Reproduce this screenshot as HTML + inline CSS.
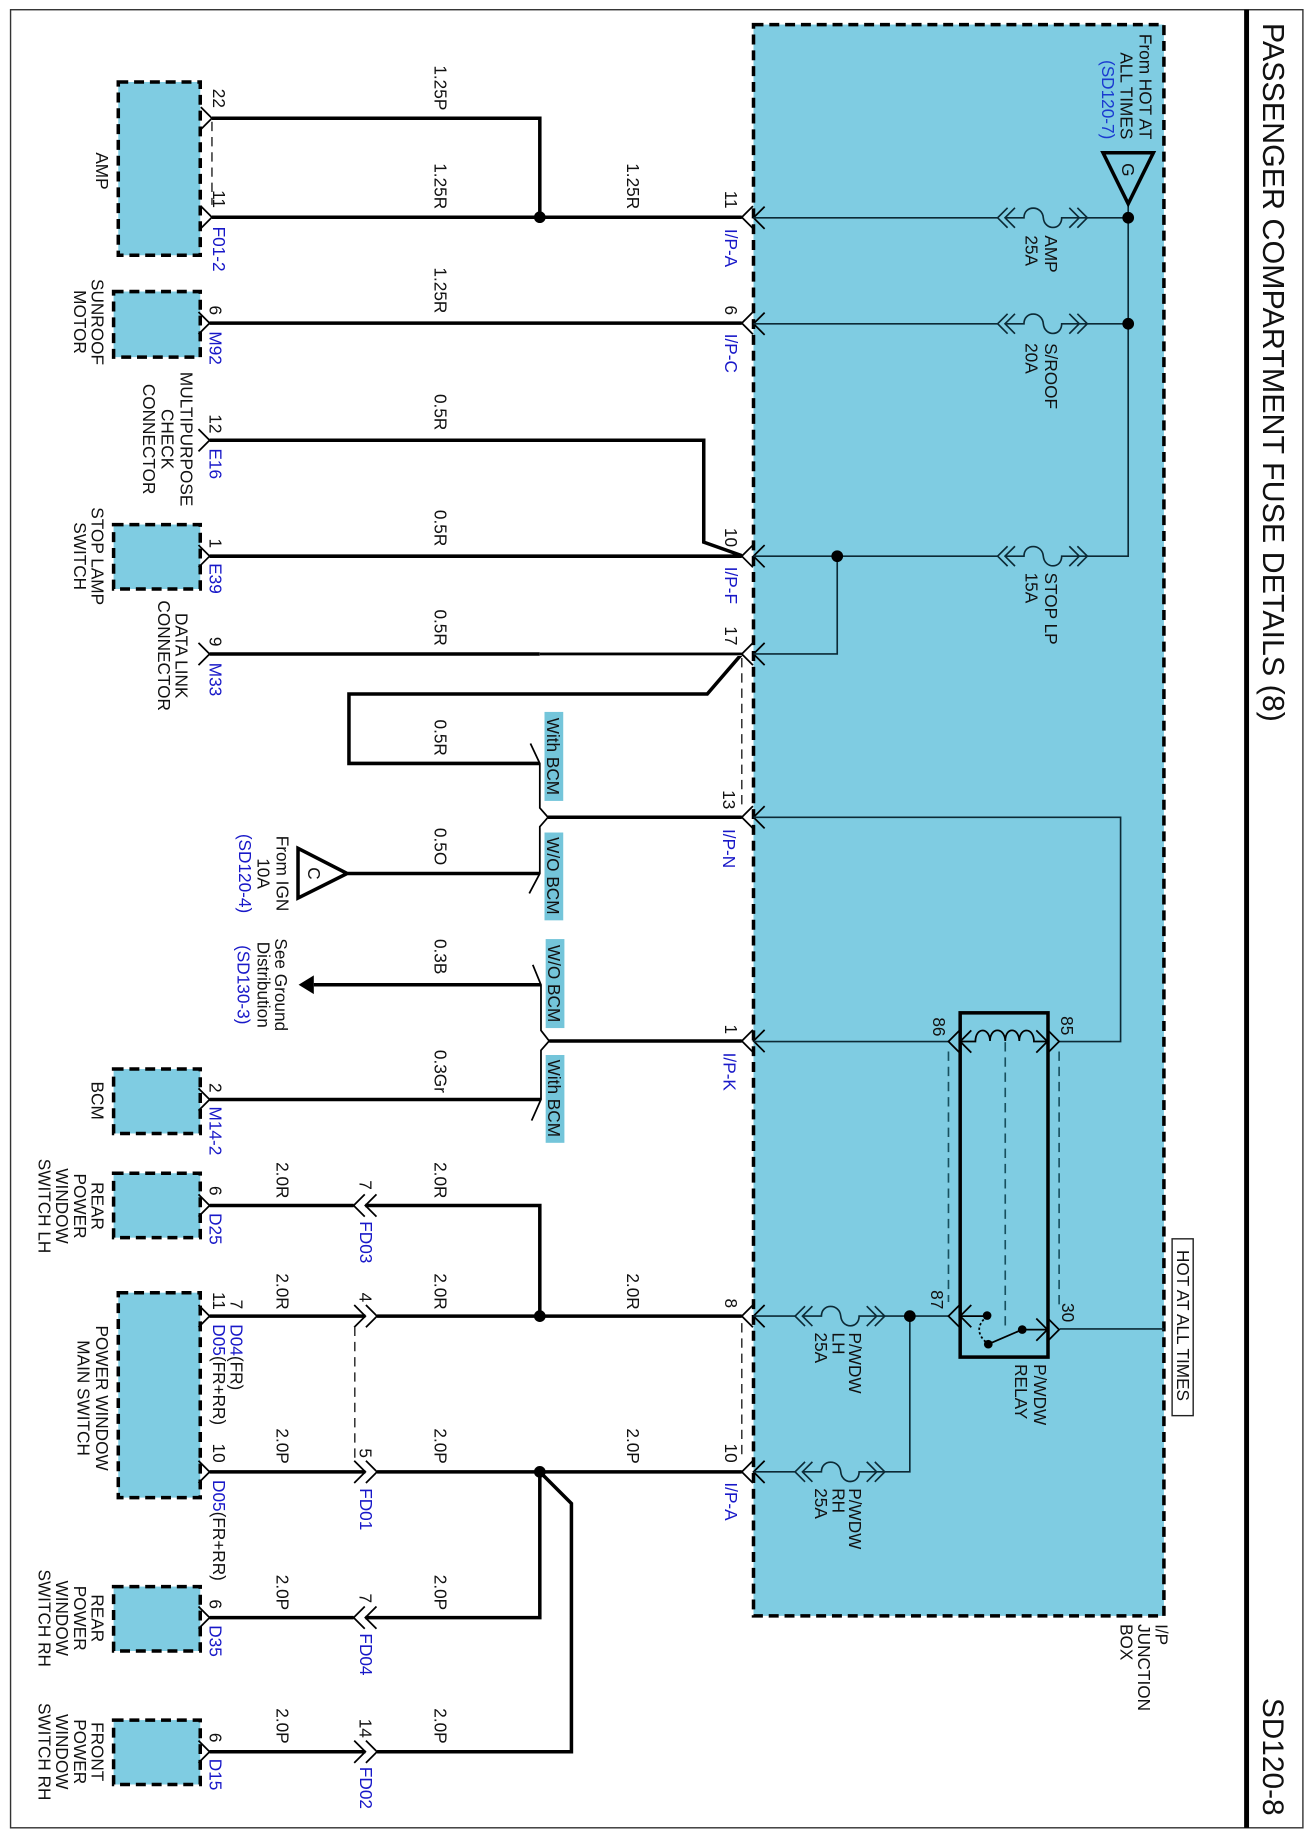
<!DOCTYPE html>
<html><head><meta charset="utf-8"><title>Passenger Compartment Fuse Details</title>
<style>
html,body{margin:0;padding:0;background:#fff}
svg{display:block}
text{font-family:"Liberation Sans",sans-serif;font-size:14.7px;fill:#111}
.b{fill:#1818c8}
.m{text-anchor:middle}
.e{text-anchor:end}
.w{fill:none;stroke:#000;stroke-width:3}
.t{fill:none;stroke:#0c2a36;stroke-width:1.4}
.d{fill:none;stroke:#222;stroke-width:1.2;stroke-dasharray:8 5}
.dt{fill:none;stroke:#17505f;stroke-width:1.4;stroke-dasharray:8 5}
.box{fill:#7fcce2;stroke:#000;stroke-width:3;stroke-dasharray:8.5 5}
.tag{fill:#74c5da}
</style></head><body>
<svg xmlns="http://www.w3.org/2000/svg" width="1311" height="1836" viewBox="0 0 1119.6 1568">
<defs>
<path id="gt" d="M-9.5,-9.5 L0,0 L-9.5,9.5"/>
<path id="lt" d="M9.5,-9.5 L0,0 L9.5,9.5"/>
<g id="fuse" fill="none" stroke="#0c2a36" stroke-width="1.4">
<path d="M8.5,-8.5 L0,0 L8.5,8.5 M14.8,-8.5 L6.3,0 L14.8,8.5 M6.3,0 H22.5 C22.5,-11 38,-11 39,0 C40,11 54.7,11 54.7,0 H76.6 M61.2,-8.5 L69.7,0 L61.2,8.5 M68.1,-8.5 L76.6,0 L68.1,8.5"/>
</g>
</defs>
<rect width="1119.6" height="1568" fill="#fff"/>
<rect x="9" y="8.3" width="1103.7" height="1552.7" fill="none" stroke="#333" stroke-width="1.2"/>
<rect x="1062.5" y="8.3" width="4.2" height="1552.7" fill="#000"/>
<text transform="translate(1078.6,19.5) rotate(90)" style="font-size:26px">PASSENGER COMPARTMENT FUSE DETAILS (8)</text>
<text transform="translate(1078.6,1450) rotate(90)" style="font-size:25.5px">SD120-8</text>

<!-- boxes -->
<rect class="box" x="643.5" y="21" width="350.5" height="1359"/>
<rect class="box" x="101" y="70" width="70" height="148"/>
<rect class="box" x="97" y="249" width="74" height="56"/>
<rect class="box" x="97" y="448" width="74" height="55"/>
<rect class="box" x="97" y="913" width="74" height="55"/>
<rect class="box" x="97" y="1002" width="74" height="55"/>
<rect class="box" x="101" y="1104" width="70" height="175"/>
<rect class="box" x="97" y="1355" width="74" height="55"/>
<rect class="box" x="97" y="1469" width="74" height="55"/>

<!-- tags -->
<rect class="tag" x="465" y="608" width="16" height="76"/>
<rect class="tag" x="465" y="711" width="16" height="75"/>
<rect class="tag" x="466" y="802" width="16" height="76"/>
<rect class="tag" x="466" y="901" width="16" height="75"/>

<!-- thick wires -->
<path class="w" d="M181,101 H461 V185.5 M181,185.5 H633.5 M179,276 H633.5 M179,376 H601 V463 L633.5,474.5 M179,475 H633.5 M179,558.5 H461 M633.5,558.5 L604,592.7 H298 V652 H461 M468,698 H633.5 M297,746 H461 M268,841 H462 M469,889 H633.5 M179,939 H462"/>
<path d="M461,558.5 H633.5" fill="none" stroke="#bbb" stroke-width="3.4"/>
<path d="M461,558.5 H633.5" fill="none" stroke="#000" stroke-width="2"/>
<path class="w" d="M179,1029.5 H302 M312,1029.5 H461 V1124 M179,1124 H312 M322,1124 H633.5 M179,1257 H312 M322,1257 H633.5 M179,1381.5 H302 M312,1381.5 H461 V1257 M179,1496 H312 M322,1496 H488 V1284 L461,1257"/>
<circle cx="461" cy="185.5" r="5"/><circle cx="461" cy="1124" r="5"/><circle cx="461" cy="1257" r="5"/>

<!-- brackets -->
<path d="M453,635 L461,652 V690 L468,698 L461,706 V746 L452,763" fill="none" stroke="#000" stroke-width="1.5"/>
<path d="M455,824 L462,841 V880 L469,889 L462,897 V939 L454,957" fill="none" stroke="#000" stroke-width="1.5"/>
<path d="M255,841 L268,833 V849 Z" fill="#000"/>
<path d="M254.5,724.5 L296.5,746 L254.5,767 Z" fill="#fff" stroke="#000" stroke-width="3"/>
<text class="m" transform="translate(263,746) rotate(90)">C</text>

<!-- left connector chevrons -->
<g fill="none" stroke="#000" stroke-width="1.5">
<use href="#gt" x="181" y="101"/><use href="#gt" x="181" y="185.5"/>
<use href="#gt" x="179" y="276"/><use href="#gt" x="179" y="376"/>
<use href="#gt" x="179" y="475"/><use href="#gt" x="179" y="558.5"/>
<use href="#gt" x="179" y="939"/><use href="#gt" x="179" y="1029.5"/>
<use href="#gt" x="179" y="1124"/><use href="#gt" x="179" y="1257"/>
<use href="#gt" x="179" y="1381.5"/><use href="#gt" x="179" y="1496"/>
<use href="#lt" x="302" y="1029.5"/><use href="#lt" x="312" y="1029.5"/>
<use href="#gt" x="312" y="1124"/><use href="#gt" x="322" y="1124"/>
<use href="#gt" x="312" y="1257"/><use href="#gt" x="322" y="1257"/>
<use href="#lt" x="302" y="1381.5"/><use href="#lt" x="312" y="1381.5"/>
<use href="#gt" x="312" y="1496"/><use href="#gt" x="322" y="1496"/>
<use href="#lt" x="633.5" y="185.5"/><use href="#lt" x="633.5" y="276"/>
<use href="#lt" x="633.5" y="475"/><use href="#lt" x="633.5" y="558.5"/>
<use href="#lt" x="633.5" y="698"/><use href="#lt" x="633.5" y="889"/>
<use href="#lt" x="633.5" y="1124"/><use href="#lt" x="633.5" y="1257"/>
<use href="#lt" x="643.5" y="186"/><use href="#lt" x="643.5" y="276.5"/>
<use href="#lt" x="643.5" y="475"/><use href="#lt" x="643.5" y="558.5"/>
<use href="#lt" x="643.5" y="698"/><use href="#lt" x="643.5" y="889"/>
<use href="#lt" x="643.5" y="1124"/><use href="#lt" x="643.5" y="1257"/>
</g>
<path class="d" d="M181,104 V175 M633.5,562 V688 M303,1133 V1245 M633.5,1130 V1246"/>

<!-- fuses and thin wires -->
<path class="t" d="M643.5,186 H852 M928.6,186 H963.5 M643.5,276.5 H852 M928.6,276.5 H963.5 M643.5,475 H852 M928.6,475 H963.5 V174 M715,475 V558.5 H643.5 M643.5,698 H957 V889.5 H904.5 M643.5,889.5 H810 M643.5,1124 H679 M755.6,1124 H810 M643.5,1257 H679 M755.6,1257 H777 V1124 M905,1135 H994"/>
<use href="#fuse" x="852" y="186"/><use href="#fuse" x="852" y="276.5"/><use href="#fuse" x="852" y="475"/>
<use href="#fuse" x="679" y="1124"/><use href="#fuse" x="679" y="1257"/>
<circle cx="963.5" cy="186" r="5"/><circle cx="963.5" cy="276.5" r="5"/><circle cx="715" cy="475" r="5"/><circle cx="777" cy="1124" r="5"/>
<path d="M942,130.5 H985 L963.5,174 Z" fill="none" stroke="#000" stroke-width="3"/>
<text class="m" transform="translate(958,145) rotate(90)">G</text>

<!-- relay -->
<rect x="820" y="865" width="75" height="294" fill="none" stroke="#000" stroke-width="3"/>
<path class="dt" d="M810,898 V1112 M858.5,890 V1132 M904.5,898 V1118"/>
<g fill="none" stroke="#000" stroke-width="1.5">
<use href="#lt" x="810" y="889.5"/><use href="#lt" x="820" y="889.5"/>
<use href="#gt" x="894.5" y="889.5"/><use href="#gt" x="904.5" y="889.5"/>
<use href="#lt" x="810" y="1124"/><use href="#lt" x="820" y="1124"/>
<use href="#gt" x="894.5" y="1135.5"/><use href="#gt" x="904.5" y="1135.5"/>
<path d="M820,889.5 H833 C833,877 845,877 845.5,889 C845.5,877 858,877 858.5,889 C858.5,877 870,877 870.5,889 C870.5,877 883,877 883,889.5 H894"/>
<path d="M820,1124 H843 M873,1135.5 H894 M873,1135.5 L844,1148"/>
<path d="M843,1124 Q829,1136 844,1148" stroke-dasharray="2 2"/>
</g>
<circle cx="843" cy="1123.5" r="3.7"/><circle cx="873" cy="1135.5" r="3.7"/><circle cx="844" cy="1148" r="3.7"/>
<rect x="1001" y="1058" width="18" height="151" fill="#fff" stroke="#222" stroke-width="1.2"/>
<text class="m" transform="translate(1005,1132) rotate(90)">HOT AT ALL TIMES</text>

<!-- wire labels -->
<text class="m" transform="translate(371,75) rotate(90)">1.25P</text>
<text class="m" transform="translate(371,159) rotate(90)">1.25R</text>
<text class="m" transform="translate(535.5,159) rotate(90)">1.25R</text>
<text class="m" transform="translate(371,248) rotate(90)">1.25R</text>
<text class="m" transform="translate(371,352) rotate(90)">0.5R</text>
<text class="m" transform="translate(371,451) rotate(90)">0.5R</text>
<text class="m" transform="translate(371,536) rotate(90)">0.5R</text>
<text class="m" transform="translate(371,630) rotate(90)">0.5R</text>
<text class="m" transform="translate(371,723) rotate(90)">0.5O</text>
<text class="m" transform="translate(371,817) rotate(90)">0.3B</text>
<text class="m" transform="translate(371,915) rotate(90)">0.3Gr</text>
<text class="m" transform="translate(236,1008) rotate(90)">2.0R</text>
<text class="m" transform="translate(371,1008) rotate(90)">2.0R</text>
<text class="m" transform="translate(236,1103) rotate(90)">2.0R</text>
<text class="m" transform="translate(371,1103) rotate(90)">2.0R</text>
<text class="m" transform="translate(535.5,1103) rotate(90)">2.0R</text>
<text class="m" transform="translate(236,1235) rotate(90)">2.0P</text>
<text class="m" transform="translate(371,1235) rotate(90)">2.0P</text>
<text class="m" transform="translate(535.5,1235) rotate(90)">2.0P</text>
<text class="m" transform="translate(236,1360) rotate(90)">2.0P</text>
<text class="m" transform="translate(371,1360) rotate(90)">2.0P</text>
<text class="m" transform="translate(236,1474) rotate(90)">2.0P</text>
<text class="m" transform="translate(371,1474) rotate(90)">2.0P</text>

<!-- pin numbers -->
<text class="m" transform="translate(182,84) rotate(90)">22</text>
<text class="m" transform="translate(182,170) rotate(90)">11</text>
<text class="m" transform="translate(179,265) rotate(90)">6</text>
<text class="m" transform="translate(179,362) rotate(90)">12</text>
<text class="m" transform="translate(179,464) rotate(90)">1</text>
<text class="m" transform="translate(179,548) rotate(90)">9</text>
<text class="m" transform="translate(179,929) rotate(90)">2</text>
<text class="m" transform="translate(179,1017) rotate(90)">6</text>
<text class="m" transform="translate(197,1114) rotate(90)">7</text>
<text class="m" transform="translate(182,1111) rotate(90)">11</text>
<text class="m" transform="translate(182,1241) rotate(90)">10</text>
<text class="m" transform="translate(179,1370) rotate(90)">6</text>
<text class="m" transform="translate(179,1484) rotate(90)">6</text>
<text class="m" transform="translate(307,1012) rotate(90)">7</text>
<text class="m" transform="translate(307,1108) rotate(90)">4</text>
<text class="m" transform="translate(307,1241) rotate(90)">5</text>
<text class="m" transform="translate(307,1365) rotate(90)">7</text>
<text class="m" transform="translate(307,1476) rotate(90)">14</text>
<text class="m" transform="translate(619,170.5) rotate(90)">11</text>
<text class="m" transform="translate(619,265) rotate(90)">6</text>
<text class="m" transform="translate(619,459) rotate(90)">10</text>
<text class="m" transform="translate(619,543) rotate(90)">17</text>
<text class="m" transform="translate(617.5,683) rotate(90)">13</text>
<text class="m" transform="translate(619,879) rotate(90)">1</text>
<text class="m" transform="translate(619,1113) rotate(90)">8</text>
<text class="m" transform="translate(619,1241) rotate(90)">10</text>
<text class="m" transform="translate(797,877) rotate(90)">86</text>
<text class="m" transform="translate(906,876) rotate(90)">85</text>
<text class="m" transform="translate(795,1110) rotate(90)">87</text>
<text class="m" transform="translate(907,1121) rotate(90)">30</text>

<!-- connector ids -->
<text class="b" transform="translate(182,193.5) rotate(90)">F01-2</text>
<text class="b" transform="translate(179,283) rotate(90)">M92</text>
<text class="b" transform="translate(179,383) rotate(90)">E16</text>
<text class="b" transform="translate(179,481) rotate(90)">E39</text>
<text class="b" transform="translate(179,566) rotate(90)">M33</text>
<text class="b" transform="translate(179,945) rotate(90)">M14-2</text>
<text class="b" transform="translate(179,1036) rotate(90)">D25</text>
<text class="b" transform="translate(197,1131) rotate(90)">D04<tspan style="fill:#111">(FR)</tspan></text>
<text class="b" transform="translate(182,1131) rotate(90)">D05<tspan style="fill:#111">(FR+RR)</tspan></text>
<text class="b" transform="translate(182,1264) rotate(90)">D05<tspan style="fill:#111">(FR+RR)</tspan></text>
<text class="b" transform="translate(179,1388) rotate(90)">D35</text>
<text class="b" transform="translate(179,1502) rotate(90)">D15</text>
<text class="b" transform="translate(307.5,1043) rotate(90)">FD03</text>
<text class="b" transform="translate(307.5,1271) rotate(90)">FD01</text>
<text class="b" transform="translate(307.5,1395) rotate(90)">FD04</text>
<text class="b" transform="translate(307.5,1509) rotate(90)">FD02</text>
<text class="b" transform="translate(619,195.5) rotate(90)">I/P-A</text>
<text class="b" transform="translate(619,285) rotate(90)">I/P-C</text>
<text class="b" transform="translate(619,484) rotate(90)">I/P-F</text>
<text class="b" transform="translate(617.5,708) rotate(90)">I/P-N</text>
<text class="b" transform="translate(618,899) rotate(90)">I/P-K</text>
<text class="b" transform="translate(619,1266) rotate(90)">I/P-A</text>

<!-- tags text -->
<text class="m" transform="translate(467,646) rotate(90)">With BCM</text>
<text class="m" transform="translate(467,748) rotate(90)">W/O BCM</text>
<text class="m" transform="translate(468,840) rotate(90)">W/O BCM</text>
<text class="m" transform="translate(468,938) rotate(90)">With BCM</text>

<!-- component labels -->
<text class="m" transform="translate(82,146) rotate(90)">AMP</text>
<text class="m" transform="translate(78,275) rotate(90)">SUNROOF</text>
<text class="m" transform="translate(63,275) rotate(90)">MOTOR</text>
<text class="m" transform="translate(154,375) rotate(90)">MULTIPURPOSE</text>
<text class="m" transform="translate(138,375) rotate(90)">CHECK</text>
<text class="m" transform="translate(122,375) rotate(90)">CONNECTOR</text>
<text class="m" transform="translate(78,475) rotate(90)">STOP LAMP</text>
<text class="m" transform="translate(63,475) rotate(90)">SWITCH</text>
<text class="m" transform="translate(150,560) rotate(90)">DATA LINK</text>
<text class="m" transform="translate(135,560) rotate(90)">CONNECTOR</text>
<text class="m" transform="translate(78,940) rotate(90)">BCM</text>
<text class="m" transform="translate(78,1030) rotate(90)">REAR</text>
<text class="m" transform="translate(63,1030) rotate(90)">POWER</text>
<text class="m" transform="translate(48,1030) rotate(90)">WINDOW</text>
<text class="m" transform="translate(33,1030) rotate(90)">SWITCH LH</text>
<text class="m" transform="translate(82,1194) rotate(90)">POWER WINDOW</text>
<text class="m" transform="translate(66,1194) rotate(90)">MAIN SWITCH</text>
<text class="m" transform="translate(78,1382) rotate(90)">REAR</text>
<text class="m" transform="translate(63,1382) rotate(90)">POWER</text>
<text class="m" transform="translate(48,1382) rotate(90)">WINDOW</text>
<text class="m" transform="translate(33,1382) rotate(90)">SWITCH RH</text>
<text class="m" transform="translate(78,1496) rotate(90)">FRONT</text>
<text class="m" transform="translate(63,1496) rotate(90)">POWER</text>
<text class="m" transform="translate(48,1496) rotate(90)">WINDOW</text>
<text class="m" transform="translate(33,1496) rotate(90)">SWITCH RH</text>
<text class="m" transform="translate(236,746) rotate(90)">From IGN</text>
<text class="m" transform="translate(220,746) rotate(90)">10A</text>
<text class="m b" transform="translate(204,746) rotate(90)">(SD120-4)</text>
<text class="m" transform="translate(235,841) rotate(90)">See Ground</text>
<text class="m" transform="translate(220,841) rotate(90)">Distribution</text>
<text class="m b" transform="translate(203,841) rotate(90)">(SD130-3)</text>
<text class="e" transform="translate(973,119) rotate(90)">From HOT AT</text>
<text class="e" transform="translate(957,119) rotate(90)">ALL TIMES</text>
<text class="e b" style="fill:#1a3ad0" transform="translate(941,119) rotate(90)">(SD120-7)</text>
<text transform="translate(892.5,201) rotate(90)">AMP</text>
<text transform="translate(876,201) rotate(90)">25A</text>
<text transform="translate(892.5,293) rotate(90)">S/ROOF</text>
<text transform="translate(876,293) rotate(90)">20A</text>
<text transform="translate(892.5,489) rotate(90)">STOP LP</text>
<text transform="translate(876,489) rotate(90)">15A</text>
<text transform="translate(883,1165) rotate(90)">P/WDW</text>
<text transform="translate(867,1165) rotate(90)">RELAY</text>
<text transform="translate(725,1138) rotate(90)">P/WDW</text>
<text transform="translate(711,1138) rotate(90)">LH</text>
<text transform="translate(696,1138) rotate(90)">25A</text>
<text transform="translate(725,1271) rotate(90)">P/WDW</text>
<text transform="translate(711,1271) rotate(90)">RH</text>
<text transform="translate(696,1271) rotate(90)">25A</text>
<text transform="translate(987,1387) rotate(90)">I/P</text>
<text transform="translate(972,1387) rotate(90)">JUNCTION</text>
<text transform="translate(957,1387) rotate(90)">BOX</text>
</svg>
</body></html>
